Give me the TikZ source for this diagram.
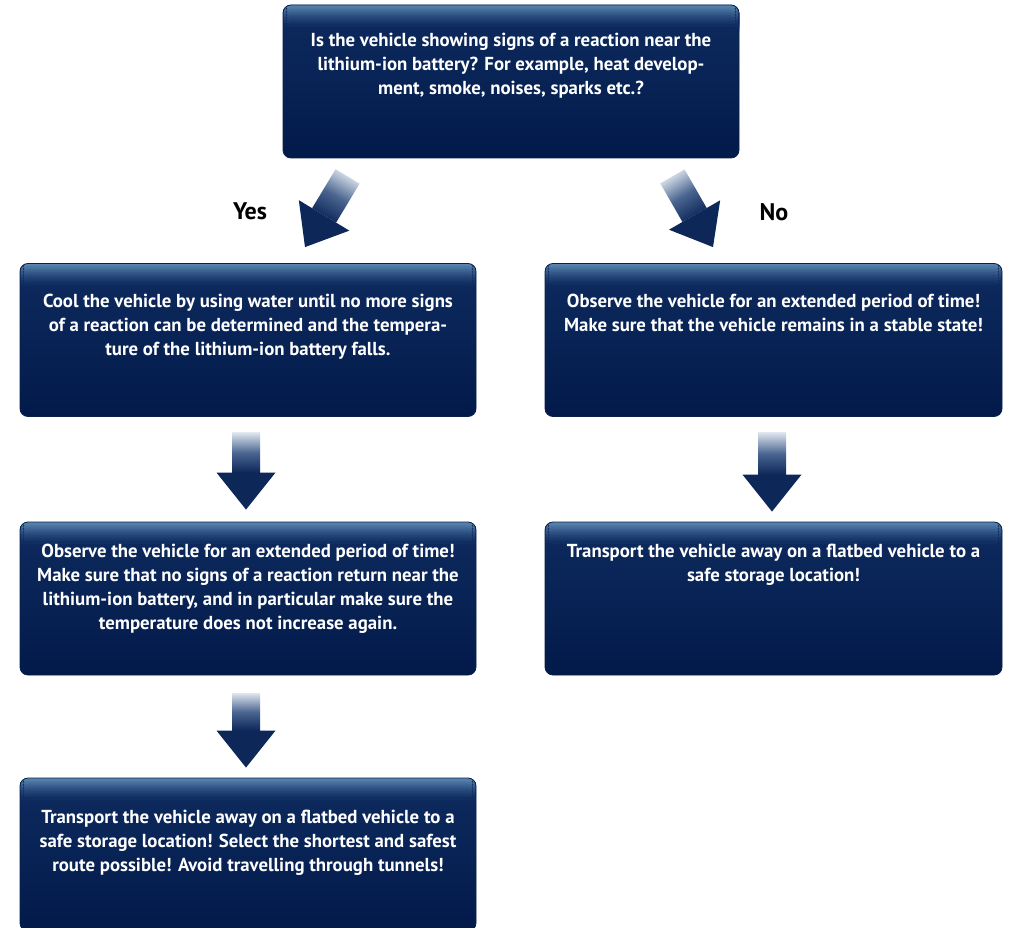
\documentclass[tikz,border=0pt]{standalone}
\usepackage{fontspec}
\setmainfont{PT Sans}
\usetikzlibrary{calc}
\definecolor{hiblue}{HTML}{5D89B4}
\definecolor{navyA}{HTML}{0E2B5F}
\definecolor{navyB}{HTML}{021A4A}
\definecolor{boxedge}{HTML}{0A1F4A}
\definecolor{arrowcol}{HTML}{0D2759}
\definecolor{fadecol}{HTML}{DCE3EC}
\definecolor{midcol}{HTML}{4A6590}
\newcommand\drawblockarrow[4]{%
  \coordinate (hb) at ($(#2)!#4!(#1)$);
  \shade[top color=fadecol, bottom color=arrowcol, middle color=midcol, shading angle=#3]
    ($(#1)!14pt!90:(#2)$) -- ($(hb)!14pt!90:(#2)$) -- ($(hb)!14pt!-90:(#2)$) -- ($(#1)!14pt!-90:(#2)$) -- cycle;
  \fill[arrowcol] ($(hb)!29.5pt!90:(#2)$) -- (#2) -- ($(hb)!29.5pt!-90:(#2)$) -- cycle;
}
\begin{document}
\begin{tikzpicture}[x=1pt,y=-1pt,
  box/.style={rectangle, rounded corners=8pt, minimum width=456pt, minimum height=153pt,
    draw=boxedge, line width=0.8pt, top color=navyA, bottom color=navyB,
    path picture={
      \foreach \i in {0,...,13}{
        \pgfmathsetmacro\pp{100*(1-\i/14)^1.3}
        \fill[hiblue!\pp!navyA] ([yshift={-\i*1.5pt+0.5pt}]path picture bounding box.north west)
          rectangle ([yshift={-(\i+1)*1.5pt-1.2pt}]path picture bounding box.north east);
      }}},
  txt/.style={text=white, font=\bfseries\fontsize{18.8}{24}\selectfont, align=center, inner sep=0pt, anchor=north},
  lbl/.style={text=black, font=\bfseries\fontsize{24}{28}\selectfont, inner sep=0pt, anchor=base}
]
\useasboundingbox[fill=white] (0,0) rectangle (1009,928);
\clip (0,0) rectangle (1009,928);

% boxes
\node[box] (q)  at (511,81.5) {};
\node[box] (l1) at (248,340) {};
\node[box, minimum width=457pt] (r1) at (773.5,340) {};
\node[box] (l2) at (248,598.5) {};
\node[box, minimum width=457pt] (r2) at (773.5,598.5) {};
\node[box] (l3) at (248,854.5) {};

% texts
\node[txt] (qt) at ($(q.north)+(0,28.5)$) {Is the vehicle showing signs of a reaction near the\\lithium-ion battery? For example, heat develop-\\ment, smoke, noises, sparks etc.?};
\node[txt] (l1t) at ($(l1.north)+(0,30.5)$) {Cool the vehicle by using water until no more signs\\of a reaction can be determined and the tempera-\\ture of the lithium-ion battery falls.};
\node[txt] (r1t) at ($(r1.north)+(0,30.5)$) {Observe the vehicle for an extended period of time!\\Make sure that the vehicle remains in a stable state!};
\node[txt] (l2t) at ($(l2.north)+(0,22.5)$) {Observe the vehicle for an extended period of time!\\Make sure that no signs of a reaction return near the\\lithium-ion battery, and in particular make sure the\\temperature does not increase again.};
\node[txt] (r2t) at ($(r2.north)+(0,22.5)$) {Transport the vehicle away on a flatbed vehicle to a\\safe storage location!};
\node[txt] (l3t) at ($(l3.north)+(0,32.5)$) {Transport the vehicle away on a flatbed vehicle to a\\safe storage location! Select the shortest and safest\\route possible! Avoid travelling through tunnels!};

% labels
\node[lbl] (yes) at (250,219) {Yes};
\node[lbl] (no) at (774,220) {No};

% connector end points
\coordinate (ya) at ($(q.south west)+(65,18)$);
\coordinate (yb) at ($(l1.north)+(57,-16)$);
\coordinate (na) at ($(q.south east)+(-67,18)$);
\coordinate (nb) at ($(r1.north)+(-60.5,-16)$);
\coordinate (la) at ($(l1.south)+(-2,16)$);
\coordinate (lb) at ($(l2.north)+(-2,-12)$);
\coordinate (ra) at ($(r1.south)+(-1.5,16)$);
\coordinate (rb) at ($(r2.north)+(-1.5,-10)$);
\coordinate (ma) at ($(l2.south)+(-2,18)$);
\coordinate (mb) at ($(l3.north)+(-2,-10)$);

% block arrows
\drawblockarrow{ya}{yb}{-30}{37pt}
\drawblockarrow{na}{nb}{32}{37pt}
\drawblockarrow{la}{lb}{0}{37pt}
\drawblockarrow{ra}{rb}{0}{37pt}
\drawblockarrow{ma}{mb}{0}{37pt}
\end{tikzpicture}
\end{document}
